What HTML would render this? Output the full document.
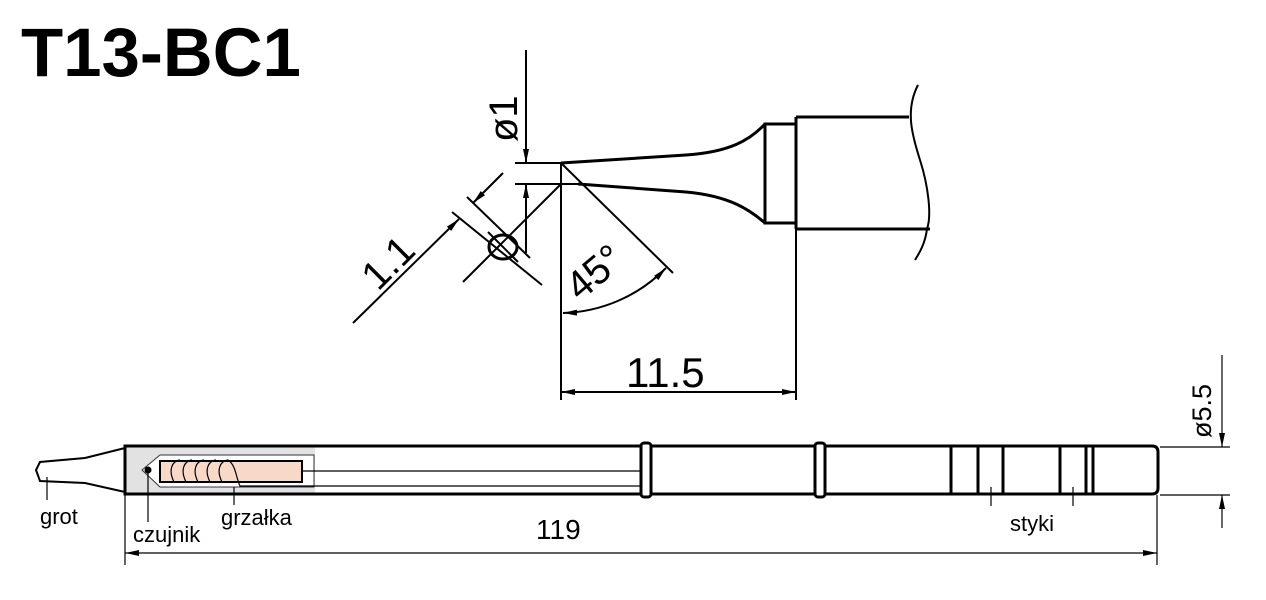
<!DOCTYPE html>
<html><head><meta charset="utf-8"><style>
html,body{margin:0;padding:0;background:#fff;}
svg{display:block;}
text{font-family:"Liberation Sans",Arial,sans-serif;fill:#000;}
</style></head><body>
<svg width="1266" height="600" viewBox="0 0 1266 600" xmlns="http://www.w3.org/2000/svg">
<defs>
<marker id="ar" markerWidth="14" markerHeight="8" refX="14" refY="4" orient="auto-start-reverse" markerUnits="userSpaceOnUse">
<path d="M0,1 L14,4 L0,7 Z" fill="#000"/></marker>
</defs>
<text x="21" y="76" font-size="69" font-weight="bold">T13-BC1</text>

<g stroke="#000" fill="none" stroke-width="2">
<line x1="526" y1="50" x2="526" y2="163" marker-end="url(#ar)"/>
<line x1="526" y1="253" x2="526" y2="184" marker-end="url(#ar)"/>
<line x1="515" y1="163" x2="561" y2="163"/>
<line x1="515" y1="184" x2="578" y2="184"/>
<path d="M561,163 L686,155 C730,152 750,140 765,124" stroke-width="3"/>
<path d="M578,184 L686,192 C730,196 750,210 765,223" stroke-width="3"/>
<line x1="561" y1="163" x2="561" y2="400"/>
<rect x="765" y="124" width="31" height="99" stroke-width="3"/>
<path d="M796,117 L909,117 M796,229 L930,229 M796,117 L796,229" stroke-width="3"/>
<path d="M918,85 C905,110 912,135 920,160 C928,185 932,215 927,229 C925,245 918,255 915,260" stroke-width="2"/>
<line x1="561" y1="163" x2="673" y2="273"/>
<path d="M563,313 A150,150 0 0 0 666,268" marker-start="url(#ar)" marker-end="url(#ar)"/>
<line x1="796" y1="229" x2="796" y2="400"/>
<line x1="561" y1="392" x2="796" y2="392" marker-start="url(#ar)" marker-end="url(#ar)"/>
<line x1="561" y1="184" x2="463" y2="282"/>
<line x1="452" y1="212" x2="542" y2="285"/>
<line x1="467" y1="197" x2="530" y2="258"/>
<line x1="353" y1="323" x2="459" y2="219" marker-end="url(#ar)"/>
<line x1="503" y1="173" x2="473" y2="203" marker-end="url(#ar)"/>
<ellipse cx="503" cy="247" rx="14" ry="12" stroke-width="3"/>
<line x1="488" y1="232" x2="518" y2="262" stroke-width="2"/>
</g>
<text x="0" y="0" font-size="40" transform="translate(517,142) rotate(-90)">ø1</text>
<text x="0" y="0" font-size="40" transform="translate(378,292) rotate(-45)">1.1</text>
<text x="0" y="0" font-size="40" transform="translate(580,302) rotate(-40)">45°</text>
<text x="626" y="387" font-size="42">11.5</text>

<g stroke="#000" fill="none" stroke-width="2">
<path d="M125,448 L85,458 L40,462 L36,470 L40,481 L85,483 L125,492"/>
<rect x="125" y="447" width="190" height="47" fill="#e2e2e2" stroke="none"/>
<path d="M142,470 L160,455 L314,455 L314,487 L160,487 Z" fill="#fff" stroke="#333" stroke-width="1"/>
<rect x="160" y="461" width="142" height="21" fill="#f8d9c8" stroke="#000" stroke-width="2"/>
<path d="M174,482 C168,470 172,461 180,460 M186,482 C180,470 184,461 192,460 M198,482 C192,470 196,461 204,460 M210,482 C204,470 208,461 216,460 M222,482 C216,470 220,461 228,460 C236,465 236,478 240,486 L315,486" stroke-width="1.2"/>
<path d="M302,471 L641,471 M315,486 L641,486" stroke-width="1.2"/>
<circle cx="148" cy="470" r="2.5" fill="#000"/>
<path d="M125,446 L1152,446 Q1158,446 1158,452 L1158,488 Q1158,494 1152,494 L125,494 Z" stroke-width="3"/>
<rect x="641" y="443" width="10" height="54" rx="3" fill="#fff" stroke-width="3"/>
<rect x="815" y="443" width="10" height="54" rx="3" fill="#fff" stroke-width="3"/>
<path d="M951,446 V494 M978,446 V494 M1003,446 V494 M1060,446 V494 M1086,446 V494 M1093,446 V494" stroke-width="3"/>
<path d="M991,487 V506 M1073,487 V506" stroke-width="1.2"/>
<path d="M47,477 V500 M148,472 V522 M234,487 V505" stroke-width="1.2"/>
<path d="M125,495 V565 M1157,495 V565" stroke-width="1.2"/>
<line x1="125" y1="553" x2="1157" y2="553" stroke-width="1.2" marker-start="url(#ar)" marker-end="url(#ar)"/>
<path d="M1160,447 H1230 M1160,495 H1230" stroke-width="1.2"/>
<line x1="1222" y1="355" x2="1222" y2="447" stroke-width="1.2" marker-end="url(#ar)"/>
<line x1="1222" y1="528" x2="1222" y2="495" stroke-width="1.2" marker-end="url(#ar)"/>
</g>
<text x="40" y="524" font-size="22">grot</text>
<text x="133" y="542" font-size="22">czujnik</text>
<text x="221" y="525" font-size="22">grzałka</text>
<text x="1010" y="531" font-size="22">styki</text>
<text x="536" y="539" font-size="28">119</text>
<text x="0" y="0" font-size="27" transform="translate(1211,438) rotate(-90)">ø5.5</text>
</svg>
</body></html>
